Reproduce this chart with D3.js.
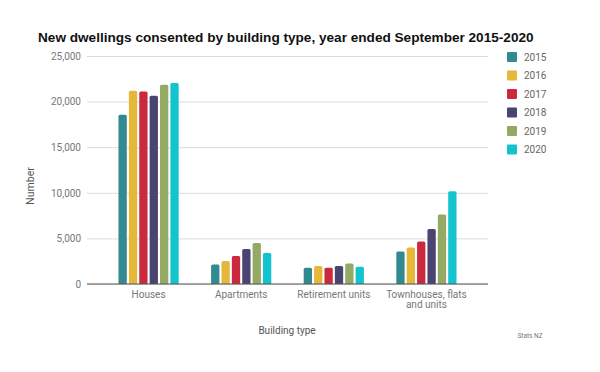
<!DOCTYPE html>
<html>
<head>
<meta charset="utf-8">
<script src="https://cdn.jsdelivr.net/npm/d3@7"></script>
<style>
  body { margin: 0; background: #fff; }
  svg { font-family: Roboto, "Liberation Sans", sans-serif; }
</style>
</head>
<body>
<svg width="600" height="372"></svg>
<script>
const categories = ["Houses", "Apartments", "Retirement units", "Townhouses, flats and units"];
const years = ["2015", "2016", "2017", "2018", "2019", "2020"];
const colors = ["#318a8f", "#e5b83c", "#cb2a3e", "#4a4570", "#94aa64", "#13c3ce"];

// values per building type, one per year
const houses = [18550, 21200, 21100, 20650, 21850, 22050];
const apartments = [2150, 2520, 3070, 3830, 4490, 3400];
const retirement = [1790, 1970, 1790, 1970, 2250, 1900];
const townhouses = [3570, 4010, 4660, 6020, 7620, 10180];

const yTicks = [0, 5000, 10000, 15000, 20000, 25000];

const rows = [houses, apartments, retirement, townhouses];
const data = categories.map((c, i) => ({
    cat: c,
    vals: years.map((y, j) => ({year: y, value: rows[i][j], idx: j}))
}));

const svg = d3.select("svg");
const plotLeft = 87, plotRight = 488, plotTop = 56, plotBottom = 284;

const x0 = d3.scaleBand()
    .domain(categories)
    .range([plotLeft, plotRight])
    .paddingInner(0.35)
    .paddingOuter(0.34);

const x1 = d3.scaleBand()
    .domain(years)
    .range([0, x0.bandwidth()])
    .paddingInner(0.2);

const y = d3.scaleLinear()
    .domain([0, 25000])
    .range([plotBottom, plotTop]);

// title
svg.append("text")
    .attr("x", 38).attr("y", 42)
    .style("font-family", "'Liberation Sans', Arial, sans-serif")
    .style("font-weight", "bold")
    .style("font-size", "13.6px")
    .attr("fill", "#111")
    .text("New dwellings consented by building type, year ended September 2015-2020");

// gridlines + y labels
const yAxis = d3.axisLeft(y)
    .tickValues(yTicks)
    .tickSize(-(plotRight - plotLeft))
    .tickPadding(6)
    .tickFormat(d3.format(","));

svg.append("g")
    .attr("transform", `translate(${plotLeft},0)`)
    .call(yAxis)
    .call(g => g.select(".domain").remove())
    .call(g => g.selectAll("line").attr("stroke", "#dcdcdc").attr("stroke-width", 1))
    .call(g => g.selectAll("text")
        .attr("fill", "#777")
        .style("font-family", "Roboto, sans-serif")
        .style("font-size", "10px"));

// bars
const groups = svg.append("g").selectAll("g")
    .data(data)
    .enter().append("g")
    .attr("transform", (d) => `translate(${x0(d.cat)},0)`);

groups.selectAll("path")
    .data((d) => d.vals)
    .enter().append("path")
    .attr("fill", (d) => colors[d.idx])
    .attr("d", (d) => {
        const bx = x1(d.year), w = x1.bandwidth();
        const by = y(d.value), r = 1.5;
        return `M${bx},${plotBottom}V${by + r}Q${bx},${by} ${bx + r},${by}H${bx + w - r}Q${bx + w},${by} ${bx + w},${by + r}V${plotBottom}Z`;
    });

// baseline
svg.append("line")
    .attr("x1", plotLeft).attr("x2", plotRight)
    .attr("y1", plotBottom).attr("y2", plotBottom)
    .attr("stroke", "#555").attr("stroke-width", 1);

// category labels
const catLabels = svg.append("g").selectAll("text")
    .data(categories)
    .enter().append("text")
    .attr("x", (d) => x0(d) + x0.bandwidth() / 2)
    .attr("y", 297.5)
    .attr("text-anchor", "middle")
    .attr("fill", "#777")
    .style("font-size", "10px");

catLabels.each(function(d) {
    const parts = d === "Townhouses, flats and units" ? ["Townhouses, flats", "and units"] : [d];
    d3.select(this).selectAll("tspan")
        .data(parts)
        .enter().append("tspan")
        .attr("x", x0(d) + x0.bandwidth() / 2)
        .attr("dy", (p, i) => i ? 10.5 : 0)
        .text((p) => p);
});

// axis titles
svg.append("text")
    .attr("transform", "translate(33.5,186) rotate(-90)")
    .attr("text-anchor", "middle")
    .attr("fill", "#555")
    .style("font-size", "10.5px")
    .text("Number");

svg.append("text")
    .attr("x", 287).attr("y", 333.5)
    .attr("text-anchor", "middle")
    .attr("fill", "#555")
    .style("font-size", "10px")
    .text("Building type");

svg.append("text")
    .attr("x", 530).attr("y", 338)
    .attr("text-anchor", "middle")
    .attr("fill", "#777")
    .style("font-size", "6.5px")
    .text("Stats NZ");

// legend
const legend = svg.append("g").selectAll("g")
    .data(years)
    .enter().append("g")
    .attr("transform", (d, i) => `translate(507,${52 + i * 18.5})`);

legend.append("rect")
    .attr("width", 10).attr("height", 10)
    .attr("rx", 1)
    .attr("fill", (d, i) => colors[i]);

legend.append("text")
    .attr("x", 17).attr("y", 8.6)
    .attr("fill", "#666")
    .style("font-size", "10px")
    .text((d) => d);
</script>
</body>
</html>
